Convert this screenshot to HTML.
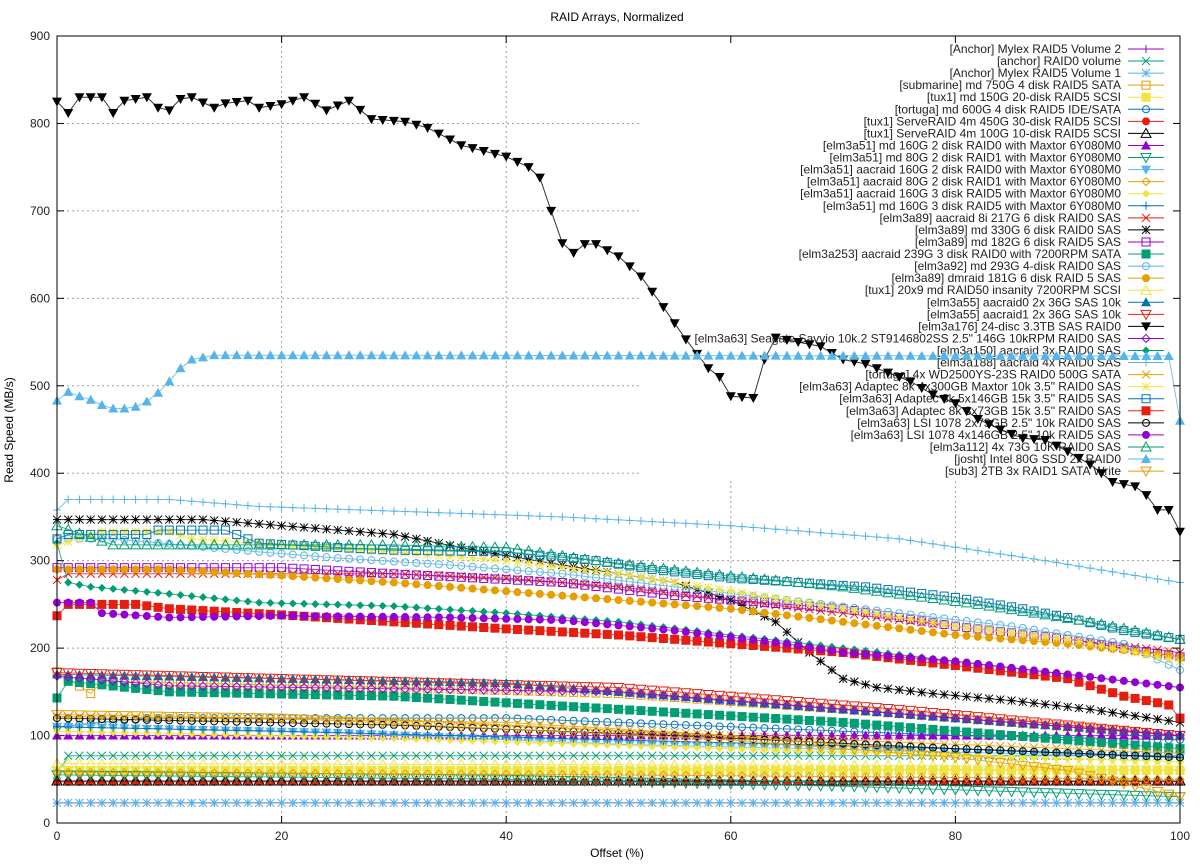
<!DOCTYPE html>
<html><head><meta charset="utf-8"><style>body{margin:0;background:#fff}svg{display:block;font-family:"Liberation Sans",sans-serif}</style></head>
<body>
<svg id="s" width="1200" height="864" xmlns="http://www.w3.org/2000/svg"></svg>
<script>
const S=document.getElementById('s');let h='';
const X0=57,X1=1180,Y0=823,YT=36;
const px=x=>X0+(X1-X0)*x/100, py=v=>Y0-(Y0-YT)*v/900;
h+='<rect width="1200" height="864" fill="#fff"/>';
h+='<text x="617" y="21" font-size="12" text-anchor="middle">RAID Arrays, Normalized</text>';
for(let v=100;v<900;v+=100){h+=`<line x1="${X0}" x2="${X1}" y1="${py(v)}" y2="${py(v)}" stroke="#a0a0a0" stroke-dasharray="2,3"/>`;}
for(let x=20;x<100;x+=20){h+=`<line x1="${px(x)}" x2="${px(x)}" y1="${YT}" y2="${Y0}" stroke="#a0a0a0" stroke-dasharray="2,3"/>`;}
h+='<rect x="640" y="37" width="539" height="442" fill="#fff"/>';
for(let v=0;v<=900;v+=100){const y=py(v);h+=`<line x1="${X0}" x2="${X0+7}" y1="${y}" y2="${y}" stroke="#000"/><line x1="${X1}" x2="${X1-7}" y1="${y}" y2="${y}" stroke="#000"/><text x="50" y="${y+4}" font-size="12" text-anchor="end" fill="#222">${v}</text>`;}
for(let x=0;x<=100;x+=20){const X=px(x);h+=`<line x1="${X}" x2="${X}" y1="${Y0}" y2="${Y0-7}" stroke="#000"/><line x1="${X}" x2="${X}" y1="${YT}" y2="${YT+7}" stroke="#000"/><text x="${X}" y="840" font-size="12" text-anchor="middle" fill="#222">${x}</text>`;}
h+='<text x="617" y="857" font-size="12" text-anchor="middle">Offset (%)</text>';
h+='<text transform="translate(13,430) rotate(-90)" font-size="12" text-anchor="middle">Read Speed (MB/s)</text>';
const C=['#9400d3','#009e73','#56b4e9','#e69f00','#f0e442','#0072b2','#e51e10','#000000'];
const M=['plus','x','star','osq','fsq','oc','fc','ot','ft','oi','fi','od','fd','plus'];
function mk(t,x,y,c){const r=4;switch(t){
case'plus':return`<path d="M${x-r} ${y}h${2*r}M${x} ${y-r}v${2*r}" stroke="${c}"/>`;
case'x':return`<path d="M${x-r} ${y-r}l${2*r} ${2*r}M${x-r} ${y+r}l${2*r} ${-2*r}" stroke="${c}"/>`;
case'star':return`<path d="M${x-r} ${y}h${2*r}M${x} ${y-r}v${2*r}M${x-r} ${y-r}l${2*r} ${2*r}M${x-r} ${y+r}l${2*r} ${-2*r}" stroke="${c}"/>`;
case'osq':return`<rect x="${x-r}" y="${y-r}" width="${2*r}" height="${2*r}" fill="none" stroke="${c}"/>`;
case'fsq':return`<rect x="${x-r-0.5}" y="${y-r-0.5}" width="${2*r+1}" height="${2*r+1}" fill="${c}"/>`;
case'oc':return`<circle cx="${x}" cy="${y}" r="${r-0.5}" fill="none" stroke="${c}"/>`;
case'fc':return`<circle cx="${x}" cy="${y}" r="${r}" fill="${c}"/>`;
case'ot':return`<path d="M${x} ${y-r-1}L${x+r+1} ${y+r}H${x-r-1}Z" fill="none" stroke="${c}"/>`;
case'ft':return`<path d="M${x} ${y-r-1}L${x+r+1} ${y+r}H${x-r-1}Z" fill="${c}"/>`;
case'oi':return`<path d="M${x} ${y+r+1}L${x+r+1} ${y-r}H${x-r-1}Z" fill="none" stroke="${c}"/>`;
case'fi':return`<path d="M${x} ${y+r+1}L${x+r+1} ${y-r}H${x-r-1}Z" fill="${c}"/>`;
case'od':return`<path d="M${x} ${y-r}L${x+r} ${y}L${x} ${y+r}L${x-r} ${y}Z" fill="none" stroke="${c}"/>`;
case'fd':return`<path d="M${x} ${y-r}L${x+r} ${y}L${x} ${y+r}L${x-r} ${y}Z" fill="${c}"/>`;}}
const D=[
["[Anchor] Mylex RAID5 Volume 2",[[0,23],[100,23]]],
["[anchor] RAID0 volume",[[0,55],[1,77],[100,77]]],
["[Anchor] Mylex RAID5 Volume 1",[[0,23],[100,23]]],
["[submarine] md 750G 4 disk RAID5 SATA",[[0,173],[1,165],[3,148],[4,162],[30,155],[50,148],[70,130],[90,110],[100,100]]],
["[tux1] md 150G 20-disk RAID5 SCSI",[[0,60],[100,60]]],
["[tortuga] md 600G 4 disk RAID5 IDE/SATA",[[0,110],[8,120],[40,120],[60,110],[80,100],[100,95]]],
["[tux1] ServeRAID 4m 450G 30-disk RAID5 SCSI",[[0,47],[100,47]]],
["[tux1] ServeRAID 4m 100G 10-disk RAID5 SCSI",[[0,48],[100,48]]],
["[elm3a51] md 160G 2 disk RAID0 with Maxtor 6Y080M0",[[0,100],[100,100]]],
["[elm3a51] md 80G 2 disk RAID1 with Maxtor 6Y080M0",[[0,55],[40,50],[70,42],[100,30]]],
["[elm3a51] aacraid 160G 2 disk RAID0 with Maxtor 6Y080M0",[[0,110],[25,103],[50,90],[100,75]]],
["[elm3a51] aacraid 80G 2 disk RAID1 with Maxtor 6Y080M0",[[0,58],[50,55],[100,50]]],
["[elm3a51] aacraid 160G 3 disk RAID5 with Maxtor 6Y080M0",[[0,105],[30,97],[60,85],[100,70]]],
["[elm3a51] md 160G 3 disk RAID5 with Maxtor 6Y080M0",[[0,110],[20,105],[50,95],[80,85],[100,75]]],
["[elm3a89] aacraid 8i 217G 6 disk RAID0 SAS",[[0,278],[1,285],[30,285],[40,280],[50,270],[60,255],[70,240],[80,225],[90,210],[100,195]]],
["[elm3a89] md 330G 6 disk RAID0 SAS",[[0,347],[13,347],[20,340],[30,330],[38,310],[45,295],[55,275],[60,255],[64,230],[67,195],[70,165],[73,155],[78,148],[85,140],[92,130],[100,115]]],
["[elm3a89] md 182G 6 disk RAID5 SAS ",[[0,292],[20,292],[30,285],[45,275],[55,260],[70,245],[80,225],[90,210],[100,190]]],
["[elm3a253] aacraid 239G 3 disk RAID0 with 7200RPM SATA",[[0,143],[1,162],[10,150],[30,145],[50,130],[70,115],[85,100],[100,85]]],
["[elm3a92] md 293G 4-disk RAID0 SAS",[[0,325],[5,325],[18,310],[25,303],[35,295],[45,285],[55,270],[65,255],[75,240],[85,225],[95,205],[100,175]]],
["[elm3a89] dmraid 181G 6 disk RAID 5 SAS",[[0,290],[10,290],[20,283],[30,275],[40,265],[50,255],[60,245],[70,230],[80,215],[90,205],[100,190]]],
["[tux1] 20x9 md RAID50 insanity 7200RPM SCSI",[[0,68],[100,65]]],
["[elm3a55] aacraid0 2x 36G SAS 10k",[[0,170],[40,160],[60,140],[80,120],[100,100]]],
["[elm3a55] aacraid1 2x 36G SAS 10k",[[0,172],[50,155],[75,130],[100,100]]],
["[elm3a176] 24-disc 3.3TB SAS RAID0",[[0,825],[1,812],[2,830],[4,830],[5,812],[6,826],[8,830],[9,818],[10,815],[11,828],[12,830],[14,818],[15,823],[17,826],[18,818],[20,822],[22,830],[24,815],[26,826],[28,805],[31,802],[33,795],[36,775],[40,762],[42,750],[43,738],[44,700],[45,663],[46,652],[47,662],[48,662],[50,648],[52,625],[54,590],[56,553],[58,520],[59,510],[60,488],[62,486],[63,530],[64,555],[68,545],[70,530],[72,525],[74,515],[76,505],[78,490],[80,480],[82,462],[84,450],[86,440],[88,438],[90,425],[92,410],[93,400],[94,390],[96,385],[97,375],[98,358],[99,358],[100,333]]],
["[elm3a63] Seagate Savvio 10k.2 ST9146802SS 2.5\" 146G 10kRPM RAID0 SAS",[[0,168],[10,157],[50,150],[75,125],[100,100]]],
["[elm3a150] aacraid 3x RAID0 SAS",[[0,320],[1,275],[3,270],[10,262],[18,252],[30,248],[40,240],[50,230],[60,215],[70,200],[80,185],[90,170],[100,155]]],
["[elm3a188] aacraid 4x RAID0 SAS",[[0,358],[1,370],[10,370],[15,365],[18,362],[45,350],[60,340],[75,325],[88,300],[95,285],[100,275]]],
["[tortuga] 4x WD2500YS-23S RAID0 500G SATA",[[0,122],[40,115],[60,100],[80,90],[100,80]]],
["[elm3a63] Adaptec 8k 4x300GB Maxtor 10k 3.5\" RAID0 SAS",[[0,318],[4,333],[10,333],[12,325],[20,318],[30,310],[40,300],[50,285],[60,265],[70,245],[80,225],[90,210],[100,185]]],
["[elm3a63] Adaptec 8k 5x146GB 15k 3.5\" RAID5 SAS",[[0,325],[1,330],[8,330],[9,335],[15,335],[18,320],[25,315],[30,312],[40,310],[48,300],[53,290],[60,280],[65,276],[72,270],[80,258],[86,245],[90,235],[95,220],[100,210]]],
["[elm3a63] Adaptec 8k 3x73GB 15k 3.5\" RAID0 SAS",[[0,237],[1,250],[7,250],[10,245],[20,238],[30,230],[40,222],[50,215],[60,205],[70,195],[80,180],[90,165],[95,145],[99,135],[100,120]]],
["[elm3a63] LSI 1078 2x73GB 2.5\" 10k RAID0 SAS",[[0,120],[30,112],[55,100],[80,85],[100,75]]],
["[elm3a63] LSI 1078 4x146GB 2.5\" 10k RAID5 SAS",[[0,252],[3,252],[4,240],[10,235],[20,237],[35,235],[45,232],[55,220],[65,205],[70,195],[80,185],[90,170],[100,155]]],
["[elm3a112] 4x 73G 10K RAID0 SAS",[[0,340],[5,318],[30,318],[40,315],[48,300],[58,285],[70,270],[82,250],[92,230],[100,210]]],
["[josht] Intel 80G SSD 2x RAID0",[[0,483],[1,493],[2,488],[3,484],[4,478],[5,474],[6,474],[7,476],[8,482],[9,492],[10,505],[11,520],[12,530],[14,535],[16,535],[99,534],[100,460]]],
["[sub3] 2TB 3x RAID1 SATA Write",[[0,124],[20,120],[60,95],[80,75],[90,60],[100,30]]]
];
function val(k,x){for(let i=1;i<k.length;i++){if(x<=k[i][0]){const a=k[i-1],b=k[i];return a[1]+(b[1]-a[1])*(x-a[0])/(b[0]-a[0]);}}return k[k.length-1][1];}
let body='';
D.forEach((d,i)=>{const c=C[i%8],m=M[i%13==0&&i>0?13:i%13];const pts=[];for(let x=0;x<=100;x++)pts.push([px(x),py(val(d[1],x))]);
body+=`<polyline fill="none" stroke="${c}" stroke-opacity="0.8" points="${pts.map(p=>p[0].toFixed(1)+','+p[1].toFixed(1)).join(' ')}"/>`;
pts.forEach(p=>body+=mk(m,p[0],p[1],c));
const ly=49+i*12.06;
h+=`<text x="1121" y="${ly+4}" font-size="12" text-anchor="end" fill="#222">${d[0].replace(/"/g,'&quot;')}</text><line x1="1128" x2="1164" y1="${ly}" y2="${ly}" stroke="${c}"/>`+mk(m,1146,ly,c);
});
h+=body;
h+=`<rect x="${X0}" y="${YT}" width="${X1-X0}" height="${Y0-YT}" fill="none" stroke="#000"/>`;
S.innerHTML=h;
</script>
</body></html>
